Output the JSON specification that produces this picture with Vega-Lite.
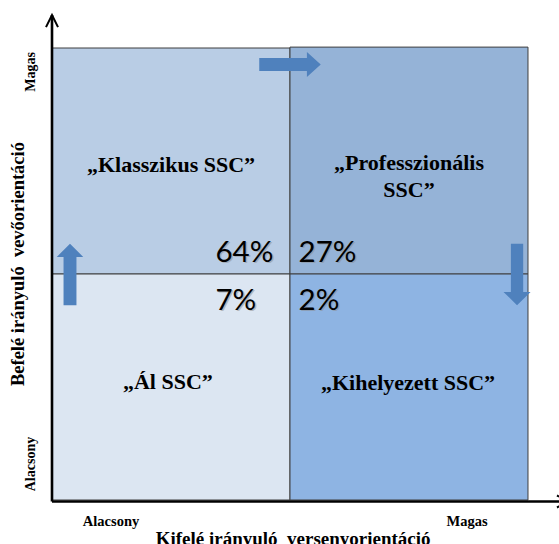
{
  "$schema": "https://vega.github.io/schema/vega-lite/v6.json",
  "width": 559,
  "height": 544,
  "autosize": "none",
  "padding": 0,
  "background": "white",
  "view": {"stroke": null},
  "datasets": {
    "quadrants": [
      {"quadrant": "klasszikus", "x": 0, "x2": 1, "y": 1, "y2": 2},
      {"quadrant": "professzionalis", "x": 1, "x2": 2, "y": 1, "y2": 2.004},
      {"quadrant": "al", "x": 0, "x2": 1, "y": 0, "y2": 1},
      {"quadrant": "kihelyezett", "x": 1, "x2": 2, "y": 0, "y2": 1}
    ],
    "captions": [
      {"label": "„Klasszikus SSC”", "x": 0.5, "y": 1.482},
      {"label": "„Professzionális\nSSC”", "x": 1.5, "y": 1.491},
      {"label": "„Ál SSC”", "x": 0.487, "y": 0.52},
      {"label": "„Kihelyezett SSC”", "x": 1.496, "y": 0.518}
    ],
    "shares": [
      {"share": 0.64, "x": 0.687, "y": 1.094},
      {"share": 0.27, "x": 1.036, "y": 1.094},
      {"share": 0.07, "x": 0.687, "y": 0.882},
      {"share": 0.02, "x": 1.036, "y": 0.882}
    ],
    "moves": [
      {"dir": "right", "x": 1.0, "y": 1.927},
      {"dir": "up", "x": 0.0756, "y": 0.998},
      {"dir": "down", "x": 1.954, "y": 0.998}
    ],
    "axisLines": [
      {"x": 0, "x2": 0, "y": -0.0066, "y2": 2.146},
      {"x": 0, "x2": 2.17, "y": -0.0066, "y2": -0.0066}
    ],
    "axisHeads": [
      {"head": "up", "x": 0, "y": 2.119},
      {"head": "right", "x": 2.147, "y": -0.0066}
    ],
    "yLabels": [
      {"label": "Magas", "x": -0.088, "y": 1.894},
      {"label": "Alacsony", "x": -0.088, "y": 0.159}
    ],
    "xLabels": [
      {"label": "Alacsony", "x": 0.248, "y": -0.097},
      {"label": "Magas", "x": 1.744, "y": -0.097}
    ],
    "yTitle": [
      {"label": "Befelé irányuló\u00a0 vevőorientáció", "x": -0.141, "y": 1.044}
    ],
    "xTitle": [
      {"label": "Kifelé irányuló\u00a0 versenyorientáció", "x": 1.013, "y": -0.201}
    ]
  },
  "encoding": {
    "x": {"field": "x", "type": "quantitative", "axis": null,
          "scale": {"domain": [-0.2185, 2.1303], "nice": false, "zero": false}},
    "y": {"field": "y", "type": "quantitative", "axis": null,
          "scale": {"domain": [-0.1947, 2.2124], "nice": false, "zero": false}}
  },
  "layer": [
    {
      "data": {"name": "quadrants"},
      "mark": {"type": "rect", "stroke": "#3f3f3f", "strokeWidth": 1},
      "encoding": {
        "x2": {"field": "x2"},
        "y2": {"field": "y2"},
        "color": {"field": "quadrant", "type": "nominal", "legend": null,
                  "scale": {"domain": ["klasszikus", "professzionalis", "al", "kihelyezett"],
                            "range": ["#b9cde5", "#95b3d7", "#dce6f2", "#8eb4e3"]}}
      }
    },
    {
      "data": {"name": "moves"},
      "mark": {"type": "point", "filled": true, "opacity": 1, "color": "#4f81bd", "size": 3780},
      "encoding": {
        "shape": {"field": "dir", "type": "nominal", "legend": null,
                  "scale": {"domain": ["right", "up", "down"],
                            "range": [
                              "M-1,-0.21L0.55,-0.21L0.55,-0.41L1,0L0.55,0.41L0.55,0.21L-1,0.21Z",
                              "M-0.21,1L-0.21,-0.57L-0.43,-0.57L0,-1L0.43,-0.57L0.21,-0.57L0.21,1Z",
                              "M-0.2,-1L0.2,-1L0.2,0.57L0.44,0.57L0,1L-0.44,0.57L-0.2,0.57Z"
                            ]}}
      }
    },
    {
      "data": {"name": "captions"},
      "mark": {"type": "text", "font": "Liberation Serif", "fontWeight": "bold", "fontSize": 22,
               "align": "center", "baseline": "middle", "lineBreak": "\n", "lineHeight": 27, "color": "#000000"},
      "encoding": {"text": {"field": "label"}}
    },
    {
      "data": {"name": "shares"},
      "mark": {"type": "text", "font": "Lato", "fontSize": 29.5, "align": "left", "baseline": "middle",
               "color": "#8c8c8c", "opacity": 0.5, "dx": 1.5, "dy": 1.5},
      "encoding": {"text": {"field": "share", "type": "quantitative", "format": ".0%"}}
    },
    {
      "data": {"name": "shares"},
      "mark": {"type": "text", "font": "Lato", "fontSize": 29.5, "align": "left", "baseline": "middle",
               "color": "#000000"},
      "encoding": {"text": {"field": "share", "type": "quantitative", "format": ".0%"}}
    },
    {
      "data": {"name": "axisLines"},
      "mark": {"type": "rule", "color": "#000000", "strokeWidth": 2.6},
      "encoding": {"x2": {"field": "x2"}, "y2": {"field": "y2"}}
    },
    {
      "data": {"name": "axisHeads"},
      "mark": {"type": "point", "filled": false, "opacity": 1, "color": "#000000", "strokeWidth": 2, "size": 144},
      "encoding": {
        "shape": {"field": "head", "type": "nominal", "legend": null,
                  "scale": {"domain": ["up", "right"],
                            "range": ["M-1,1L0,-1L1,1", "M-1,-1L1,0L-1,1"]}}
      }
    },
    {
      "data": {"name": "yLabels"},
      "mark": {"type": "text", "font": "Liberation Serif", "fontWeight": "bold", "fontSize": 14,
               "angle": 270, "align": "center", "baseline": "middle", "color": "#000000"},
      "encoding": {"text": {"field": "label"}}
    },
    {
      "data": {"name": "xLabels"},
      "mark": {"type": "text", "font": "Liberation Serif", "fontWeight": "bold", "fontSize": 14.5,
               "align": "center", "baseline": "middle", "color": "#000000"},
      "encoding": {"text": {"field": "label"}}
    },
    {
      "data": {"name": "yTitle"},
      "mark": {"type": "text", "font": "Liberation Serif", "fontWeight": "bold", "fontSize": 18.5,
               "angle": 270, "align": "center", "baseline": "middle", "color": "#000000"},
      "encoding": {"text": {"field": "label"}}
    },
    {
      "data": {"name": "xTitle"},
      "mark": {"type": "text", "font": "Liberation Serif", "fontWeight": "bold", "fontSize": 19,
               "align": "center", "baseline": "alphabetic", "color": "#000000"},
      "encoding": {"text": {"field": "label"}}
    }
  ],
  "resolve": {"scale": {"shape": "independent"}}
}
